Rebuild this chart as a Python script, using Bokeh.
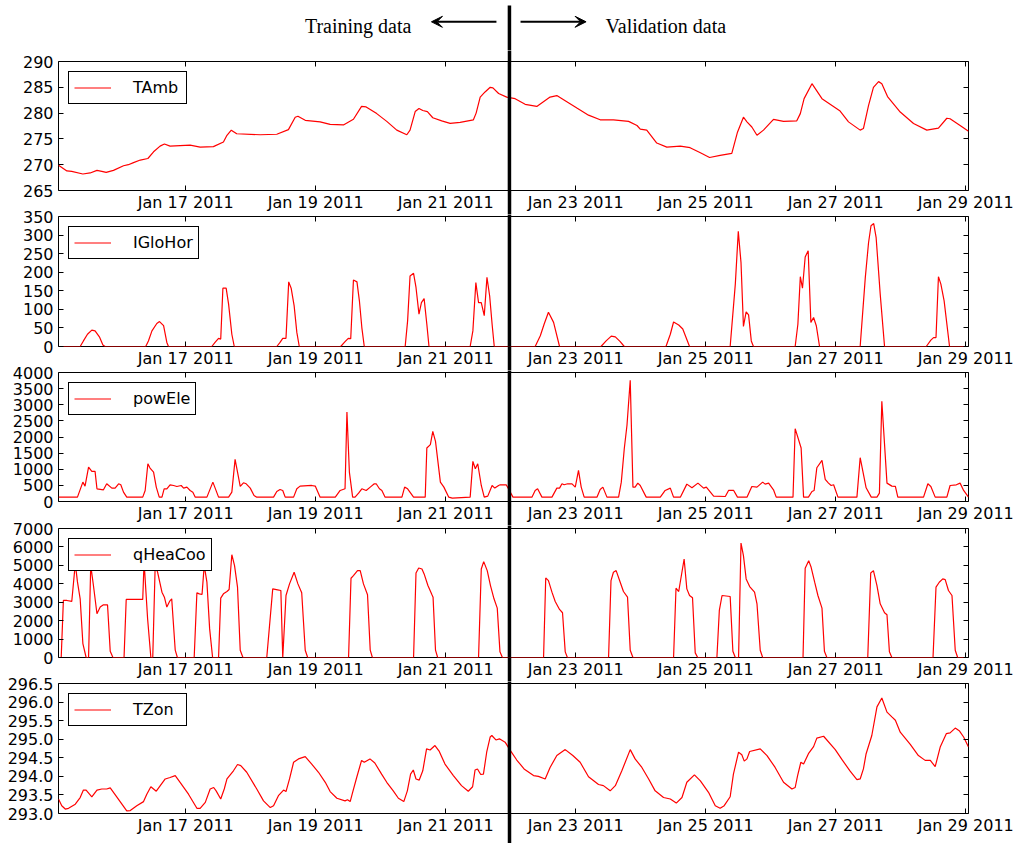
from datetime import datetime, timedelta
from bokeh.plotting import figure
from bokeh.models import (FixedTicker, DatetimeTickFormatter, LinearAxis, DatetimeAxis,
                          Range1d, Legend, LegendItem, Arrow, VeeHead, Label, Span,
                          PrintfTickFormatter, CustomLabelingPolicy)
from bokeh.layouts import column, row
from bokeh.embed import file_html
from bokeh.resources import INLINE

# ---------------- data (hours since 2011-01-15 00:00) ----------------
tamb_hours = [1, 4.1, 5.9, 10, 12.7, 15.2, 17, 18.6, 21.3, 25,
              26.8, 28.7, 31.2, 34, 36.1, 38.5, 40.1, 42.2, 49.6, 53.3,
              58.2, 61.9, 63.2, 64.8, 66.8, 75.5, 81.6, 85.9, 88.4, 89.4,
              92.1, 97.6, 101.3, 106.2, 109.9, 112.9, 114.6, 118.5, 122.2, 125.9,
              129.6, 130.8, 132.7, 134.1, 135.5, 137.2, 139.2, 142.5, 145.6, 149.3,
              154.2, 155.2, 156.7, 158.5, 160.4, 161.4, 163.5, 166.5, 169.6, 173.3,
              177.6, 182.5, 185, 187.5, 192.4, 196.7, 201, 205.9, 211.5, 214.6,
              215.8, 218.2, 221.9, 225.6, 230.6, 234.2, 238, 241.4, 245.3, 249.6,
              251.7, 253.9, 255.2, 257, 258.9, 261.3, 265, 268.7, 273.6, 274.9,
              276.3, 279.2, 282.9, 289.6, 292.7, 297, 298.2, 300.1, 301.9, 303.8,
              305, 307.1, 311.8, 316.7, 321.6, 325.9, 329, 330.2, 333.9, 337]
tamb = [269.9, 268.8, 268.7, 268.2, 268.4, 268.9, 268.7, 268.5, 268.9, 269.8,
        270.0, 270.4, 270.9, 271.2, 272.5, 273.6, 274.0, 273.6, 273.8, 273.4,
        273.5, 274.4, 275.7, 276.7, 276.0, 275.8, 275.9, 276.8, 279.2, 279.4,
        278.6, 278.3, 277.8, 277.7, 278.8, 281.3, 281.2, 279.9, 278.4, 276.7,
        275.8, 276.7, 280.3, 280.9, 280.5, 280.3, 279.1, 278.5, 278.0, 278.2,
        278.7, 280.0, 283.1, 284.1, 285.0, 284.9, 283.8, 283.1, 282.8, 281.7,
        281.3, 283.1, 283.4, 282.6, 281.0, 279.6, 278.7, 278.7, 278.4, 277.6,
        276.9, 276.7, 274.2, 273.4, 273.6, 273.3, 272.3, 271.4, 271.8, 272.2,
        276.3, 279.2, 278.3, 277.3, 275.7, 276.7, 278.8, 278.4, 278.5, 279.9,
        282.8, 285.7, 282.8, 280.4, 278.3, 276.7, 277.0, 281.5, 285.0, 286.1,
        285.7, 283.2, 280.2, 278.0, 276.7, 277.1, 279.0, 278.9, 277.6, 276.5]

iglo_hours = [1, 9, 10.2, 11.7, 13.3, 14.5, 16.1, 17.4, 18.2, 33.2,
              34.2, 35.5, 37.3, 38.3, 39.8, 41, 41.6, 57.6, 58.8, 60.1,
              60.9, 61.7, 62.9, 63.8, 65, 65.9, 81.6, 82.8, 83.8, 85,
              86, 86.9, 88, 89, 89.9, 105.2, 106.8, 108, 108.9, 109.9,
              111.2, 112.1, 113, 113.9, 129, 129.9, 130.8, 132.1, 133, 134.1,
              135, 136, 137, 137.8, 153, 154, 155.1, 156.1, 157.1, 158.2,
              159.2, 160.2, 161.1, 161.9, 177, 178.9, 180.3, 181.9, 183.8, 186,
              201.3, 203.2, 205.1, 206.6, 208.4, 209.9, 225.3, 226.9, 228.1, 230,
              231.5, 234, 249, 250.9, 252, 253, 253.9, 254.9, 255.8, 256.8,
              257.6, 273, 274, 274.9, 275.7, 276.7, 277.8, 278.8, 279.8, 280.8,
              282, 297, 298.9, 300.1, 301, 302, 302.9, 304.4, 306, 321.4,
              323.1, 324.1, 325, 325.9, 326.8, 328, 330, 337]
iglo = [0, 0, 15, 33, 44, 42, 26, 4, 0, 0,
        15, 42, 62, 67, 56, 11, 0, 0, 11, 22,
        20, 157, 157, 114, 33, 0, 0, 11, 22, 22,
        174, 157, 110, 38, 0, 0, 13, 22, 21, 179,
        174, 123, 51, 0, 0, 69, 190, 197, 159, 87,
        118, 129, 60, 0, 0, 42, 172, 118, 118, 83,
        186, 136, 60, 0, 0, 29, 60, 92, 65, 0,
        0, 15, 28, 26, 13, 0, 0, 33, 66, 58,
        47, 0, 0, 168, 310, 226, 54, 93, 85, 15,
        0, 0, 60, 188, 157, 241, 258, 65, 78, 56,
        0, 0, 186, 280, 325, 331, 293, 141, 0, 0,
        17, 24, 24, 188, 168, 123, 0, 0]

pow_hours = [1, 8, 10, 10.8, 12.1, 13.3, 14.5, 15.2, 17.6, 18.8,
             20.7, 21.9, 23.2, 24, 25, 26.2, 32.1, 33, 34, 34.8,
             36.1, 37.1, 38.2, 39.2, 40, 41, 42.2, 43.5, 44.7, 46.3,
             47.2, 48.4, 49.6, 50.6, 51.5, 55.8, 58, 60.1, 63.8, 65,
             66.2, 67.1, 68.1, 69.3, 70.3, 71.8, 73.2, 74.2, 80.4, 81.6,
             82.8, 83.8, 84.7, 87.8, 89, 90.2, 94.5, 95.8, 97.6, 103.2,
             105, 106.8, 107.5, 108.4, 109.6, 110.5, 111.8, 113, 114.6, 116.1,
             117.6, 118.3, 119.5, 120.4, 121.6, 127.8, 128.8, 129.9, 132.1, 136.4,
             137, 138.3, 139.2, 140.2, 142, 143.3, 145.1, 146.4, 153, 154,
             154.9, 155.8, 157.1, 158.2, 159.5, 161.1, 162.1, 163.5, 164.1, 166.3,
             167.5, 168.8, 175.8, 177, 177.9, 179.5, 183.2, 185, 186, 186.9,
             187.7, 189, 190.6, 191.8, 193, 194, 195.1, 199.8, 201, 202,
             203.5, 207.8, 208.8, 209.9, 210.9, 212.1, 213.1, 213.9, 214.9, 215.8,
             218, 223.2, 225, 226.9, 228.1, 230.6, 233, 234.9, 237.1, 239.2,
             240.2, 242.9, 247.2, 248.4, 250.3, 251.7, 255.2, 257, 258.9, 261,
             261.9, 263.2, 265, 266, 272.2, 273, 275.2, 276.1, 277.9, 279.2,
             280, 281, 282.9, 284.1, 285.3, 286.3, 287.2, 288.8, 295.8, 297,
             299.2, 301.1, 303.2, 304.1, 305, 306.9, 308.7, 310, 310.9, 320.4,
             322, 323.1, 324.7, 329, 330.2, 332.5, 333.9, 335.2, 337]
pow_ele = [135, 135, 600, 477, 1067, 933, 933, 394, 363, 549,
           415, 415, 549, 518, 290, 135, 135, 342, 1171, 1036,
           912, 446, 135, 135, 394, 394, 518, 497, 466, 497,
           415, 446, 342, 290, 135, 135, 600, 135, 135, 290,
           1306, 912, 466, 580, 549, 415, 187, 135, 135, 311,
           373, 342, 135, 135, 394, 477, 497, 477, 135, 135,
           342, 394, 2777, 912, 135, 135, 259, 394, 342, 446,
           549, 549, 394, 342, 135, 135, 446, 394, 135, 135,
           1658, 1762, 2176, 1865, 600, 446, 135, 104, 135, 1243,
           1015, 1171, 497, 135, 166, 497, 415, 497, 518, 518,
           342, 135, 135, 342, 394, 135, 135, 415, 415, 549,
           518, 549, 549, 446, 964, 446, 135, 135, 373, 446,
           135, 135, 600, 1637, 2363, 3762, 446, 446, 570, 497,
           135, 135, 342, 415, 135, 135, 539, 425, 570, 415,
           446, 166, 155, 342, 342, 135, 135, 466, 446, 600,
           539, 570, 363, 135, 135, 2259, 1658, 135, 135, 311,
           342, 1047, 1275, 684, 570, 497, 518, 135, 135, 1358,
           425, 135, 135, 259, 3109, 570, 477, 466, 135, 135,
           549, 466, 135, 135, 497, 518, 570, 342, 135]

qhea_hours = [1, 2, 2.8, 4.1, 5.9, 7.2, 8, 9, 10, 11.2,
              12.1, 12.9, 13.9, 15.2, 16.4, 17.6, 19.1, 20.1, 21.1, 25.2,
              26, 32.1, 32.6, 33.9, 35.1, 35.8, 36.7, 37.6, 39.2, 40.1,
              41, 42, 42.8, 44.1, 44.9, 51.1, 52.1, 53, 54, 54.8,
              55.8, 56.8, 57.9, 60.1, 60.9, 61.9, 63.2, 64, 65, 66,
              67.1, 68.1, 69.1, 77.9, 80.1, 81.9, 83.1, 83.8, 85, 86.3,
              88, 89.4, 90.8, 92.1, 93, 108.1, 109, 109.9, 111.4, 112.4,
              113.6, 115.1, 116.1, 116.9, 132.1, 133, 134, 135.2, 136, 137.4,
              138.9, 139.3, 140.2, 141, 156.1, 157.1, 158, 159.3, 160.5, 161.8,
              163, 164, 164.9, 180.1, 180.9, 181.9, 183.2, 184.4, 186, 187.1,
              188.1, 188.9, 204.1, 205, 205.9, 206.9, 208.4, 209.6, 211.1, 212.1,
              213.1, 228.1, 229, 230, 232, 233, 234, 235.1, 236.1, 237,
              244.1, 245, 246, 249, 250, 250.9, 252.1, 253, 253.9, 254.9,
              256.2, 258, 258.9, 260.1, 261, 275.9, 276.7, 278, 278.9, 280.2,
              281.4, 282.9, 283.8, 284.7, 299.8, 300.9, 301.9, 303.2, 304.4, 306,
              306.9, 307.8, 308.7, 323.9, 325, 326.2, 327.5, 328.4, 329.6, 330.9,
              332.1, 333, 337]
qhea = [0, 0, 3095, 3095, 3041, 5100, 4100, 3185, 756, 0,
        0, 5000, 3905, 2375, 2735, 2861, 2861, 342, 0, 0,
        3149, 3149, 5200, 2105, 0, 0, 5000, 4625, 3545, 3275,
        2735, 3041, 3185, 396, 0, 0, 3509, 3455, 3419, 5000,
        4085, 1566, 0, 0, 3221, 3455, 3581, 3689, 5579, 4985,
        3815, 396, 0, 0, 3725, 3671, 3635, 0, 3365, 3995,
        4625, 3995, 3509, 396, 0, 0, 4301, 4445, 4715, 4715,
        3995, 3401, 396, 0, 0, 4589, 4859, 4805, 4535, 3905,
        3401, 3275, 396, 0, 0, 4805, 5201, 4715, 3905, 3185,
        2681, 306, 0, 0, 4319, 4175, 3545, 3041, 2609, 2429,
        306, 0, 0, 4175, 4625, 4715, 4085, 3581, 3275, 396,
        0, 0, 3761, 3581, 5345, 3725, 3365, 3239, 252, 0,
        0, 2555, 3365, 3311, 342, 0, 0, 6208, 5525, 4265,
        3851, 3545, 2915, 396, 0, 0, 4841, 5255, 4895, 4085,
        3365, 2681, 342, 0, 0, 4589, 4715, 3905, 2915, 2429,
        2321, 306, 0, 0, 3815, 4085, 4265, 4229, 3635, 3365,
        396, 0, 0]

tzon_hours = [1, 2.2, 3.5, 4.7, 7.2, 9, 10.2, 11.2, 13.3, 15.2,
              17, 18.8, 20.1, 22.5, 26.2, 27.5, 29.9, 32.4, 33.6, 35.1,
              37.1, 40.4, 42.2, 44.1, 45.9, 49, 52.1, 53.3, 55.2, 57,
              58.3, 59.2, 60.9, 62.2, 63.2, 65.6, 67.1, 68.3, 70.5, 74.2,
              76.7, 79.2, 80.4, 82.2, 84.1, 85, 86.3, 87.8, 89.6, 92.1,
              94.5, 97, 99.5, 101.3, 103.8, 106.8, 107.7, 108.7, 109.6, 111.1,
              112.9, 113.9, 116, 117.8, 120.3, 122.2, 124.6, 126.5, 128.5, 129.8,
              131, 132, 133, 134.2, 135.5, 136.9, 138.2, 140, 141.6, 143.7,
              146.8, 149.8, 152.3, 153.9, 154.8, 155.7, 156.9, 157.9, 159.1, 160.4,
              161, 162.5, 163.8, 165.9, 167.8, 170.2, 172.9, 176.4, 178.2, 180.7,
              182.5, 185, 188.1, 190.9, 193.6, 196.7, 200.4, 202.2, 204.7, 206.6,
              209, 212.1, 213.9, 216.4, 218.9, 221.3, 224.4, 226.9, 229.1, 231.2,
              233, 235.8, 238, 241, 243.5, 245.3, 246.8, 249, 250.2, 252.1,
              253.3, 254.2, 255.2, 256.2, 260.1, 262.6, 265.6, 268.7, 271.8, 273,
              273.9, 275.1, 276.1, 277.9, 279.8, 281, 283.5, 287.8, 290.3, 293.3,
              295.8, 297, 298.2, 299.2, 301.3, 303.2, 305, 306.9, 308.7, 310,
              311.8, 315.5, 318.5, 321, 322.9, 324.7, 326.6, 328.8, 330.2, 332.1,
              333.7, 335.2, 337]
tzon = [293.39, 293.21, 293.12, 293.14, 293.25, 293.43, 293.63, 293.63, 293.45, 293.63,
        293.66, 293.66, 293.69, 293.45, 293.07, 293.08, 293.21, 293.32, 293.52, 293.72,
        293.60, 293.93, 293.97, 294.02, 293.84, 293.52, 293.14, 293.14, 293.30, 293.66,
        293.70, 293.61, 293.39, 293.66, 293.93, 294.15, 294.32, 294.29, 294.11, 293.66,
        293.34, 293.16, 293.21, 293.48, 293.63, 293.59, 293.93, 294.38, 294.47, 294.53,
        294.33, 294.11, 293.84, 293.59, 293.41, 293.34, 293.37, 293.32, 293.57, 293.97,
        294.43, 294.38, 294.47, 294.36, 294.06, 293.84, 293.61, 293.41, 293.32, 293.61,
        294.06, 294.17, 293.93, 293.90, 294.15, 294.74, 294.71, 294.83, 294.67, 294.33,
        294.02, 293.75, 293.60, 293.72, 294.17, 294.20, 294.05, 294.06, 294.65, 295.06,
        295.10, 294.98, 295.01, 294.92, 294.70, 294.44, 294.20, 294.02, 294.00, 293.93,
        294.24, 294.56, 294.72, 294.56, 294.38, 293.99, 293.78, 293.75, 293.61, 293.75,
        294.15, 294.72, 294.47, 294.24, 293.93, 293.61, 293.43, 293.39, 293.28, 293.43,
        293.84, 294.04, 293.88, 293.57, 293.21, 293.14, 293.21, 293.45, 294.06, 294.65,
        294.58, 294.41, 294.47, 294.67, 294.74, 294.56, 294.24, 293.84, 293.66, 293.70,
        294.02, 294.38, 294.33, 294.61, 294.80, 295.03, 295.08, 294.72, 294.45, 294.14,
        293.91, 293.93, 294.20, 294.61, 295.10, 295.87, 296.11, 295.73, 295.60, 295.51,
        295.19, 294.86, 294.56, 294.43, 294.43, 294.26, 294.80, 295.15, 295.17, 295.30,
        295.22, 295.06, 294.79]

series_names = ["TAmb", "IGloHor", "powEle", "qHeaCoo", "TZon"]
y_limits = [(265, 290), (0, 350), (0, 4000), (0, 7000), (293.0, 296.5)]
y_ticks = [[265, 270, 275, 280, 285, 290],
           [0, 50, 100, 150, 200, 250, 300, 350],
           [0, 500, 1000, 1500, 2000, 2500, 3000, 3500, 4000],
           [0, 1000, 2000, 3000, 4000, 5000, 6000, 7000],
           [293.0, 293.5, 294.0, 294.5, 295.0, 295.5, 296.0, 296.5]]
y_formats = ["%d", "%d", "%d", "%d", "%.1f"]
x_tick_days = [17, 19, 21, 23, 25, 27, 29]
split_hour = 167.5
x_first_hour, x_last_hour = 1, 337
header_texts = ["Training data", "Validation data"]

series = [(tamb_hours, tamb), (iglo_hours, iglo), (pow_hours, pow_ele),
          (qhea_hours, qhea), (tzon_hours, tzon)]
for hs, vs in series:
    assert len(hs) == len(vs), (len(hs), len(vs))

START = datetime(2011, 1, 15)
EPOCH = datetime(1970, 1, 1)


def to_ms(h):
    return ((START + timedelta(hours=h)) - EPOCH).total_seconds() * 1000.0


x_ticks_ms = [(datetime(2011, 1, d) - EPOCH).total_seconds() * 1000.0 for d in x_tick_days]
split_ms = to_ms(split_hour)
x_range = Range1d(to_ms(x_first_hour), to_ms(x_last_hour))

FONT = "DejaVu Sans"
fmt = "%b %d %Y"
dt_formatter = DatetimeTickFormatter(microseconds=fmt, milliseconds=fmt, seconds=fmt,
                                     minsec=fmt, minutes=fmt, hourmin=fmt, hours=fmt,
                                     days=fmt, months=fmt, years=fmt)

W = 1020
YCOL_W = 57                 # column holding the value labels
MAIN_W = W - YCOL_W         # column holding the plot frames
BL, BR = 58, 52
OVERSHOOT = 12


def make_axis(cls, ticks, labels, border, offset=0, formatter=None, split=False):
    """Axis with inward major ticks. With split=True an outward minor tick at the
    split time continues the split line through the border. The axis adds the minor
    tick length to the label offset, so the standoff compensates for it."""
    kw = dict(ticker=FixedTicker(ticks=ticks, minor_ticks=[split_ms] if split else []),
              axis_line_color=None, major_tick_in=5, major_tick_out=0,
              major_tick_line_color="black", major_label_text_font=FONT,
              major_label_text_color="black")
    tick_len = 0
    if split:
        tick_len = border + OVERSHOOT if labels else border
        kw.update(minor_tick_in=0, minor_tick_out=tick_len, minor_tick_line_width=3.5,
                  minor_tick_line_color="black")
    else:
        kw.update(minor_tick_line_color=None)
    if labels:
        kw.update(major_label_text_font_size="16px", major_label_standoff=offset - tick_len)
    else:
        kw.update(major_label_text_font_size="0px", major_label_standoff=0,
                  major_label_policy=CustomLabelingPolicy(code="return []"))
    if formatter is not None:
        kw["formatter"] = formatter
    return cls(**kw)


# ---------------- header with the training / validation annotation ----------------
HEADER_H = 50
header = figure(width=W, height=HEADER_H, x_range=x_range, y_range=Range1d(0, HEADER_H),
                x_axis_location=None, y_axis_location=None,
                output_backend="svg", toolbar_location=None,
                min_border_left=BL, min_border_right=BR, min_border_top=0, min_border_bottom=0)
header.xgrid.visible = False
header.ygrid.visible = False
header.outline_line_color = None
header.segment(x0=[split_ms], y0=[0], x1=[split_ms], y1=[HEADER_H - 5],
               line_color="black", line_width=3.5)
arrow_y = HEADER_H - 21.3
header.add_layout(Arrow(end=VeeHead(size=11, fill_color="black", line_color="black"),
                        x_start=to_ms(162.7), y_start=arrow_y, x_end=to_ms(138.7), y_end=arrow_y,
                        line_color="black", line_width=2))
header.add_layout(Arrow(end=VeeHead(size=11, fill_color="black", line_color="black"),
                        x_start=to_ms(171.6), y_start=arrow_y, x_end=to_ms(195.8), y_end=arrow_y,
                        line_color="black", line_width=2))
text_y = HEADER_H - 25.7
header.add_layout(Label(x=to_ms(131.3), y=text_y, text=header_texts[0], text_align="right",
                        text_baseline="alphabetic", text_font="Liberation Serif",
                        text_font_size="20px", text_color="black"))
header.add_layout(Label(x=to_ms(203.0), y=text_y, text=header_texts[1], text_align="left",
                        text_baseline="alphabetic", text_font="Liberation Serif",
                        text_font_size="20px", text_color="black"))

# ---------------- vertical layout (pixels) ----------------
frame_h = [129, 130, 129, 129, 130]
# plot column: the dates sit below each frame
main_tops = [11, 2, 2, 3, 2]
main_bottoms = [24, 24, 24, 24, 30]
# value-label column: borders split the gaps evenly so no label is cut
y_tops = [11, 13, 13, 14, 13]
y_bottoms = [13, 13, 13, 13, 30]

main_figs, y_figs = [], []
n = len(series_names)
for i, name in enumerate(series_names):
    lo, hi = y_limits[i]
    y_range = Range1d(lo, hi)

    # ---- plot frame ----
    p = figure(width=MAIN_W, height=main_tops[i] + frame_h[i] + main_bottoms[i],
               x_range=x_range, y_range=y_range,
               x_axis_location=None, y_axis_location=None,
               output_backend="svg", toolbar_location=None,
               min_border_left=BL - YCOL_W, min_border_right=BR,
               min_border_top=main_tops[i], min_border_bottom=main_bottoms[i])
    p.xgrid.visible = False
    p.ygrid.visible = False
    p.outline_line_color = "black"
    p.outline_line_width = 1
    p.outline_line_alpha = 1
    p.background_fill_color = "white"
    p.border_fill_color = "white"

    p.add_layout(make_axis(LinearAxis, y_ticks[i], False, BL - YCOL_W), "left")
    p.add_layout(make_axis(LinearAxis, y_ticks[i], False, BR), "right")
    p.add_layout(make_axis(DatetimeAxis, x_ticks_ms, False, main_tops[i], split=True), "above")
    p.add_layout(make_axis(DatetimeAxis, x_ticks_ms, True, main_bottoms[i], 2,
                           dt_formatter, split=True), "below")

    hs, vs = series[i]
    line = p.line([to_ms(h) for h in hs], vs, line_color="red", line_width=1.2)

    legend = Legend(items=[LegendItem(label=name, renderers=[line])],
                    location="top_left", margin=10, padding=5, spacing=0,
                    glyph_width=37, glyph_height=21, label_standoff=22,
                    label_width=48, label_height=21,
                    label_text_font=FONT, label_text_font_size="16px",
                    label_text_color="black",
                    border_line_color="black", border_line_width=1, border_line_alpha=1,
                    background_fill_color="white", background_fill_alpha=1)
    p.add_layout(legend)

    p.add_layout(Span(location=split_ms, dimension="height", line_color="black",
                      line_width=3.5))
    main_figs.append(p)

    # ---- value labels of the same y range ----
    q = figure(width=YCOL_W, height=y_tops[i] + frame_h[i] + y_bottoms[i],
               x_range=Range1d(0, 1), y_range=y_range,
               x_axis_location=None, y_axis_location=None,
               output_backend="svg", toolbar_location=None,
               min_border_left=YCOL_W - 2, min_border_right=0,
               min_border_top=y_tops[i], min_border_bottom=y_bottoms[i])
    q.xgrid.visible = False
    q.ygrid.visible = False
    q.outline_line_color = None
    q.add_layout(LinearAxis(ticker=FixedTicker(ticks=y_ticks[i]),
                            formatter=PrintfTickFormatter(format=y_formats[i]),
                            axis_line_color=None, major_tick_line_color=None,
                            minor_tick_line_color=None, major_tick_in=0, major_tick_out=0,
                            major_label_standoff=2, major_label_text_font=FONT,
                            major_label_text_font_size="16px",
                            major_label_text_color="black"), "left")
    y_figs.append(q)

layout = column(header, row(column(*y_figs), column(*main_figs)))
open("out.html", "w").write(file_html(layout, INLINE))
